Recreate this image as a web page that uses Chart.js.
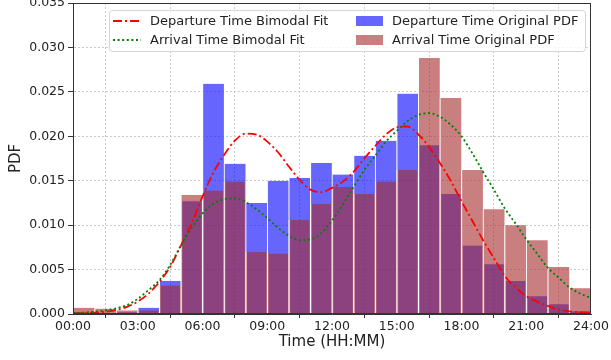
<!DOCTYPE html>
<html>
<head>
<meta charset="utf-8">
<script src="https://cdn.jsdelivr.net/npm/chart.js@4.4.0/dist/chart.umd.min.js"></script>
<style>
  html, body { margin: 0; padding: 0; background: #fff; }
</style>
</head>
<body>
<canvas id="pdf-chart" width="611" height="360"></canvas>
<script>
// hourly histogram bins (start hour of each bin)
const binHours = [0,1,2,3,4,5,6,7,8,9,10,11,12,13,14,15,16,17,18,19,20,21,22,23];
const departurePdf = [0.0001,0.0001,0.0002,0.0007,0.0037,0.0127,0.0259,0.0169,0.0125,0.0150,0.0153,0.0170,
                      0.0157,0.0178,0.0195,0.0248,0.0190,0.0135,0.0077,0.0056,0.0037,0.0020,0.0011,0.0003];
const arrivalPdf   = [0.0007,0.0006,0.0004,0.0004,0.0032,0.0134,0.0139,0.0149,0.0070,0.0068,0.0106,0.0124,
                      0.0143,0.0135,0.0149,0.0162,0.0288,0.0243,0.0162,0.0118,0.0100,0.0083,0.0053,0.0029];

// fitted curves, read every half hour
const fitHours = [0,0.5,1,1.5,2,2.5,3,3.5,4,4.5,5,5.5,6,6.5,7,7.5,8,8.5,9,9.5,10,10.5,11,11.5,
                  12,12.5,13,13.5,14,14.5,15,15.5,16,16.5,17,17.5,18,18.5,19,19.5,20,20.5,21,21.5,22,22.5,23,23.5,24];
const departureFit = [0.0001,0.0001,0.00015,0.00025,0.00045,0.0008,0.0014,0.0023,0.0036,0.0053,0.0077,0.0102,
                      0.0132,0.0159,0.0179,0.0195,0.0203,0.0202,0.0194,0.0182,0.0166,0.0151,0.0140,0.0137,
                      0.0142,0.0149,0.0160,0.0175,0.0189,0.0202,0.0210,0.0211,0.0202,0.0188,0.0170,0.0150,
                      0.0127,0.0105,0.0083,0.0063,0.0043,0.0030,0.0020,0.0014,0.0009,0.0005,0.0003,0.0002,0.0001];
const arrivalFit = [0.0001,0.00015,0.00026,0.0004,0.00064,0.0010,0.0017,0.0027,0.0038,0.0055,0.0077,0.0097,
                    0.0113,0.0124,0.0129,0.0130,0.0126,0.0118,0.0108,0.0097,0.0088,0.0083,0.0084,0.0091,
                    0.0105,0.0123,0.0143,0.0162,0.0178,0.0194,0.0206,0.0217,0.0224,0.0226,0.0222,0.0213,
                    0.0200,0.0181,0.0160,0.0140,0.0119,0.0102,0.0084,0.0068,0.0052,0.0041,0.0030,0.0023,0.0018];

const yTicks = [0, 0.005, 0.01, 0.015, 0.02, 0.025, 0.03, 0.035];

const FONT = 'DejaVu Sans';
const TXT = '#222';

const bars = (label, values, color, order) => ({
  type: 'bar',
  label: label,
  data: binHours.map((h, i) => ({ x: h + 0.5, y: values[i] })),
  backgroundColor: color,
  borderColor: '#ffffff',
  borderWidth: { left: 1, right: 0.5, top: 0, bottom: 0 },
  barPercentage: 1,
  categoryPercentage: 1,
  grouped: false,
  order: order
});

const fitLine = (label, values, color, dash, order) => ({
  type: 'line',
  label: label,
  data: fitHours.map((h, i) => ({ x: h, y: values[i] })),
  borderColor: color,
  borderWidth: 1.8,
  borderDash: dash,
  pointRadius: 0,
  cubicInterpolationMode: 'monotone',
  fill: false,
  order: order
});

// box around the plot + legend inside it
const frameAndLegend = {
  id: 'frameAndLegend',
  afterDraw(chart) {
    const ctx = chart.ctx;
    const a = chart.chartArea;
    const ds = chart.data.datasets;
    ctx.save();
    ctx.strokeStyle = '#333';
    ctx.lineWidth = 1;
    ctx.setLineDash([]);
    ctx.strokeRect(Math.round(a.left) + 0.5, Math.round(a.top) + 0.5,
                   Math.round(a.right - a.left) - 1, Math.round(a.bottom - a.top) - 1);

    // legend box
    const bx = 109.5, by = 10.5, bw = 476, bh = 41, r = 3;
    ctx.beginPath();
    ctx.moveTo(bx + r, by);
    ctx.arcTo(bx + bw, by, bx + bw, by + bh, r);
    ctx.arcTo(bx + bw, by + bh, bx, by + bh, r);
    ctx.arcTo(bx, by + bh, bx, by, r);
    ctx.arcTo(bx, by, bx + bw, by, r);
    ctx.closePath();
    ctx.fillStyle = 'rgba(255,255,255,0.8)';
    ctx.fill();
    ctx.strokeStyle = '#d4d4d4';
    ctx.stroke();

    const rows = [21, 40];
    ctx.font = '13px "' + FONT + '"';
    ctx.textBaseline = 'middle';
    ctx.textAlign = 'left';
    // column 1: fitted lines
    [ds[2], ds[3]].forEach((d, i) => {
      ctx.beginPath();
      ctx.strokeStyle = d.borderColor;
      ctx.lineWidth = d.borderWidth;
      ctx.setLineDash(d.borderDash);
      ctx.moveTo(113, rows[i]);
      ctx.lineTo(141, rows[i]);
      ctx.stroke();
      ctx.setLineDash([]);
      ctx.fillStyle = TXT;
      ctx.fillText(d.label, 150, rows[i] + 1);
    });
    // column 2: histograms
    [ds[0], ds[1]].forEach((d, i) => {
      ctx.fillStyle = d.backgroundColor;
      ctx.fillRect(356, rows[i] - 5, 27, 10);
      ctx.fillStyle = TXT;
      ctx.fillText(d.label, 392, rows[i] + 1);
    });
    ctx.restore();
  }
};

const ctx = document.getElementById('pdf-chart');

const pdf_chart = new Chart(ctx, {
  data: {
    datasets: [
      bars('Departure Time Original PDF', departurePdf, 'rgba(0,0,255,0.6)', 3),
      bars('Arrival Time Original PDF', arrivalPdf, 'rgba(165,42,42,0.6)', 2),
      fitLine('Departure Time Bimodal Fit', departureFit, '#ff0000', [9, 3, 2, 3], 1),
      fitLine('Arrival Time Bimodal Fit', arrivalFit, '#008000', [2, 2.6], 0)
    ]
  },
  options: {
    responsive: false,
    animation: false,
    devicePixelRatio: 1,
    layout: { padding: { left: 0, right: 20, top: 3, bottom: 0 } },
    plugins: {
      legend: { display: false },
      tooltip: { enabled: false }
    },
    scales: {
      x: {
        type: 'linear',
        min: 0,
        max: 24,
        offset: false,
        ticks: {
          stepSize: 3,
          autoSkip: false,
          maxRotation: 0,
          padding: 1,
          color: TXT,
          font: { family: FONT, size: 12.5 },
          callback: v => String(v).padStart(2, '0') + ':00'
        },
        grid: { color: '#cdcdcd', tickColor: '#333', tickLength: 4, borderDash: [2, 2] },
        border: { color: '#333', width: 1, dash: [2, 2] },
        title: {
          display: true,
          text: 'Time (HH:MM)',
          color: TXT,
          font: { family: FONT, size: 15 },
          padding: { top: 0, bottom: 9 }
        },
        afterFit: s => { s.height = 46; s.paddingLeft = 0; s.paddingRight = 0; }
      },
      y: {
        min: 0,
        max: 0.035,
        afterBuildTicks: s => { s.ticks = yTicks.map(v => ({ value: v })); },
        ticks: {
          padding: 3,
          color: TXT,
          font: { family: FONT, size: 12.5 },
          callback: v => v.toFixed(3)
        },
        grid: { color: '#cdcdcd', tickColor: '#333', tickLength: 5, borderDash: [2, 2] },
        border: { color: '#333', width: 1, dash: [2, 2] },
        title: {
          display: true,
          text: 'PDF',
          color: TXT,
          font: { family: FONT, size: 15 },
          padding: { top: 7, bottom: 0 }
        },
        afterFit: s => { s.width = 73; s.paddingTop = 0; s.paddingBottom = 0; }
      }
    }
  },
  plugins: [frameAndLegend]
});
</script>
</body>
</html>
